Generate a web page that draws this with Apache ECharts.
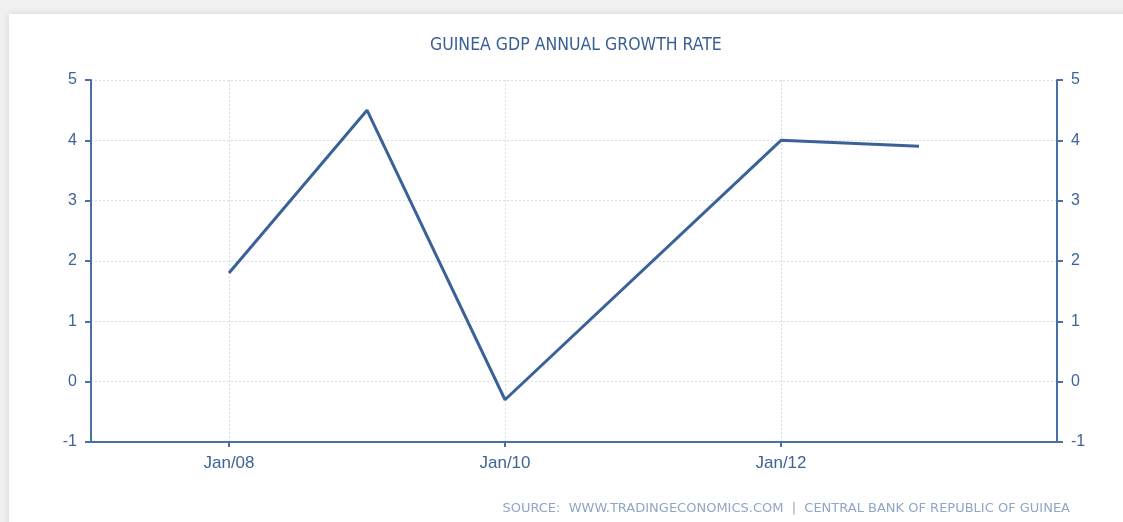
<!DOCTYPE html>
<html>
<head>
<meta charset="utf-8">
<script src="https://cdn.jsdelivr.net/npm/echarts@6/dist/echarts.min.js"></script>
<style>
html,body{margin:0;padding:0;width:1123px;height:522px;overflow:hidden;background:#f1f1f1;}
#panel{position:absolute;left:9px;top:14px;width:1200px;height:600px;background:#fff;box-shadow:0 0 8px rgba(0,0,0,0.12);}
#chart{position:absolute;left:0;top:0;width:1123px;height:522px;}
</style>
</head>
<body>
<div id="panel"></div>
<div id="chart"></div>
<script>
var years = ['2007','2008','2009','2010','2011','2012','2013','2014'];
var gdpGrowth = [null, 1.8, 4.5, -0.3, null, 4.0, 3.9, null];
var tickLabels = {'2008':'Jan/08','2010':'Jan/10','2012':'Jan/12'};
var yTicks = [-1, 0, 1, 2, 3, 4, 5];

var blue = '#4a6fa5';
var textBlue = '#3f6497';
var shown = function(i, v){ return tickLabels.hasOwnProperty(years[i]); };

var chart = echarts.init(document.getElementById('chart'), null, {renderer:'canvas'});
var yAxisBase = {
  type: 'value', min: yTicks[0], max: yTicks[yTicks.length-1], interval: 1,
  axisLine: {show: true, lineStyle: {color: blue, width: 2}},
  axisTick: {show: true, length: 6, lineStyle: {color: blue, width: 2}},
  axisLabel: {color: textBlue, fontSize: 16, fontFamily: 'Liberation Sans', margin: 14, padding: [3,0,0,0]},
};
chart.setOption({
  animation: false,
  backgroundColor: 'transparent',
  title: {
    text: 'GUINEA GDP ANNUAL GROWTH RATE',
    left: 425, top: 31,
    textStyle: {color: '#3a5f94', fontSize: 17.5, fontWeight: 'normal', fontFamily: 'DejaVu Sans Condensed'}
  },
  graphic: [{
    type: 'text', right: 53, top: 502,
    style: {
      text: 'SOURCE:  WWW.TRADINGECONOMICS.COM  |  CENTRAL BANK OF REPUBLIC OF GUINEA',
      fill: '#8fa6c6', font: '13px "DejaVu Sans"'
    }
  }],
  grid: {left: 91, right: 66, top: 80, bottom: 80, containLabel: false},
  xAxis: {
    type: 'category', data: years, boundaryGap: false,
    axisLine: {show: true, lineStyle: {color: blue, width: 2}, onZero: false},
    axisTick: {show: true, length: 5, interval: shown, alignWithLabel: true, lineStyle: {color: blue, width: 2}},
    axisLabel: {interval: shown, color: textBlue, fontSize: 17, fontFamily: 'Liberation Sans', margin: 13,
      formatter: function(v){ return tickLabels[v] || ''; }},
    splitLine: {show: true, interval: shown, lineStyle: {color: '#d3deec', type: [2,2], width: 1}}
  },
  yAxis: [
    Object.assign({}, yAxisBase, {position: 'left',
      splitLine: {show: true, lineStyle: {color: '#d3deec', type: [2,2], width: 1}}}),
    Object.assign({}, yAxisBase, {position: 'right', splitLine: {show: false}})
  ],
  series: [{
    type: 'line', data: gdpGrowth, connectNulls: true,
    symbol: 'none', lineStyle: {color: '#3b6298', width: 3}
  }]
});
</script>
</body>
</html>
